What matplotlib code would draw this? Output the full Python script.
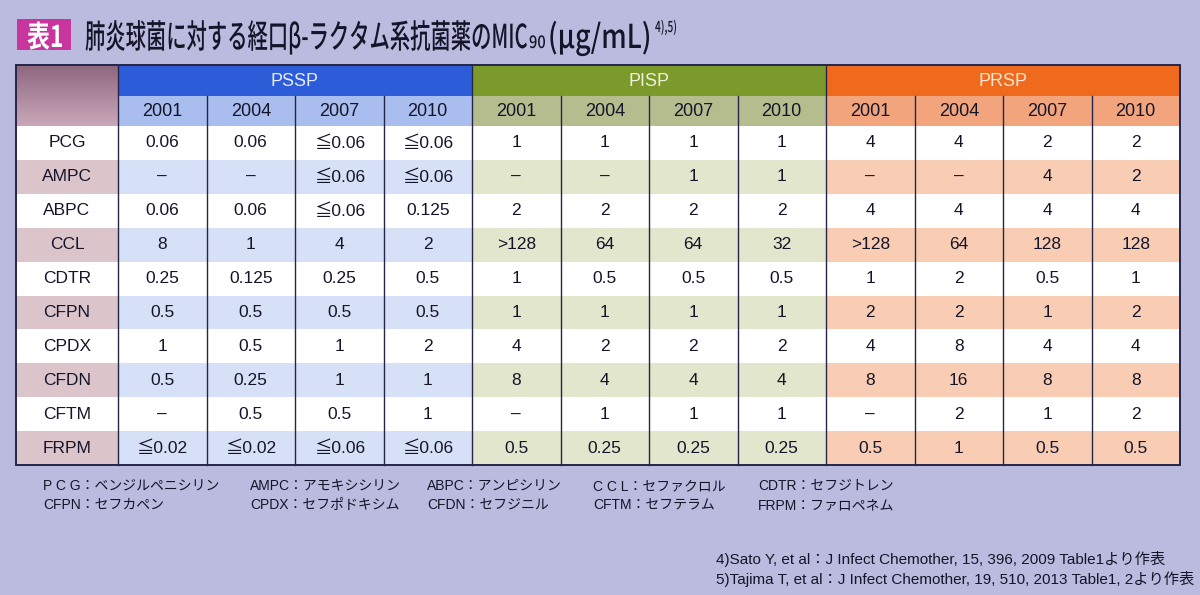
import numpy as np
import matplotlib.pyplot as plt
import matplotlib.transforms as mtransforms
from matplotlib.patches import Rectangle, PathPatch
from matplotlib.textpath import TextPath
from matplotlib.font_manager import FontProperties
from matplotlib.colors import LinearSegmentedColormap

# ---- data ----
groups = ['PSSP', 'PISP', 'PRSP']
years = ['2001', '2004', '2007', '2010']
drugs = ['PCG', 'AMPC', 'ABPC', 'CCL', 'CDTR', 'CFPN', 'CPDX', 'CFDN', 'CFTM', 'FRPM']

pssp = [['0.06', '0.06', '≦0.06', '≦0.06'],
        ['–', '–', '≦0.06', '≦0.06'],
        ['0.06', '0.06', '≦0.06', '0.125'],
        ['8', '1', '4', '2'],
        ['0.25', '0.125', '0.25', '0.5'],
        ['0.5', '0.5', '0.5', '0.5'],
        ['1', '0.5', '1', '2'],
        ['0.5', '0.25', '1', '1'],
        ['–', '0.5', '0.5', '1'],
        ['≦0.02', '≦0.02', '≦0.06', '≦0.06']]
pisp = [['1', '1', '1', '1'],
        ['–', '–', '1', '1'],
        ['2', '2', '2', '2'],
        ['>128', '64', '64', '32'],
        ['1', '0.5', '0.5', '0.5'],
        ['1', '1', '1', '1'],
        ['4', '2', '2', '2'],
        ['8', '4', '4', '4'],
        ['–', '1', '1', '1'],
        ['0.5', '0.25', '0.25', '0.25']]
prsp = [['4', '4', '2', '2'],
        ['–', '–', '4', '2'],
        ['4', '4', '4', '4'],
        ['>128', '64', '128', '128'],
        ['1', '2', '0.5', '1'],
        ['2', '2', '1', '2'],
        ['4', '8', '4', '4'],
        ['8', '16', '8', '8'],
        ['–', '2', '1', '2'],
        ['0.5', '1', '0.5', '0.5']]

legend_row1 = ['P C G：ベンジルペニシリン', 'AMPC：アモキシシリン', 'ABPC：アンピシリン',
               'C C L：セファクロル', 'CDTR：セフジトレン']
legend_row2 = ['CFPN：セフカペン', 'CPDX：セフポドキシム', 'CFDN：セフジニル',
               'CFTM：セフテラム', 'FRPM：ファロペネム']
footnotes = ['4)Sato Y, et al：J Infect Chemother, 15, 396, 2009 Table1より作表',
             '5)Tajima T, et al：J Infect Chemother, 19, 510, 2013 Table1, 2より作表']

title_badge = '表1'
title_main = '肺炎球菌に対する経口β-ラクタム系抗菌薬のMIC'
title_sub = '90'
title_unit = '(μg/mL)'
title_ref = '4),5)'

# ---- style ----
BG = '#bbbbdf'
LINE = '#25254a'
TXT = '#15152a'
head_col = {'PSSP': '#2c5cd8', 'PISP': '#7c9a2c', 'PRSP': '#f06a1e'}
head_txt = {'PSSP': '#e6ebff', 'PISP': '#eef2d8', 'PRSP': '#ffe6d4'}
year_col = {'PSSP': '#a9bdee', 'PISP': '#b5bd8e', 'PRSP': '#f2a57c'}
tint_col = {'PSSP': '#d6e0f6', 'PISP': '#e2e6cc', 'PRSP': '#f9cdb3'}
LABEL_TINT = '#dcc4cb'
FONT = ['Liberation Sans', 'Noto Sans CJK JP']
JP = 'Noto Sans CJK JP'

# layout (pixels)
X0, LABEL_W, COL_W = 16, 102, 88.5
Y0, H1, H2, ROW_H = 65, 31, 30, 33.9

fig = plt.figure(figsize=(12, 5.95), dpi=100)
fig.patch.set_facecolor(BG)
ax = fig.add_axes([0, 0, 1, 1])
ax.set_xlim(0, 1200)
ax.set_ylim(595, 0)
ax.axis('off')


def path_text(s, x, base, size, width=None, sx=1.0, color=TXT, weight='bold'):
    tp = TextPath((0, 0), s, size=size, prop=FontProperties(family=JP, weight=weight))
    ext = tp.get_extents()
    if width is not None:
        sx = width / ext.x1
    tr = mtransforms.Affine2D().scale(sx, -1).translate(x, base) + ax.transData
    ax.add_patch(PathPatch(tp, transform=tr, fc=color, ec='none', lw=0))
    return x + ext.x1 * sx, sx


# ---- title ----
ax.add_patch(Rectangle((17, 19), 54, 31, fc='#c8359d', ec='none'))
path_text(title_badge, 27, 47, 30, width=35, color='white')
path_text(title_main, 85, 48, 33, width=442, weight='medium')
path_text(title_sub, 529, 48, 17, width=16, weight='medium')
path_text(title_unit, 548, 48, 33, width=101, weight='medium')
path_text(title_ref, 655, 32, 15, width=21, weight='medium')

# ---- table ----
n_rows = len(drugs)
y_data = Y0 + H1 + H2
y_bot = y_data + n_rows * ROW_H
x_right = X0 + LABEL_W + COL_W * len(groups) * len(years)

# label column (header cell has a mauve gradient)
mauve = LinearSegmentedColormap.from_list('mauve', ['#8f6780', '#c9a8b8'])
ax.imshow(np.linspace(0, 1, 64).reshape(-1, 1), cmap=mauve, aspect='auto',
          extent=(X0, X0 + LABEL_W, Y0 + H1 + H2, Y0), zorder=1)
for i, d in enumerate(drugs):
    y = y_data + i * ROW_H
    ax.add_patch(Rectangle((X0, y), LABEL_W, ROW_H,
                           fc='white' if i % 2 == 0 else LABEL_TINT, ec='none'))
    ax.text(X0 + LABEL_W / 2, y + ROW_H / 2, d, ha='center', va='center',
            fontsize=12.5, color=TXT, family=FONT)

group_data = {'PSSP': pssp, 'PISP': pisp, 'PRSP': prsp}
for g_i, g in enumerate(groups):
    gx = X0 + LABEL_W + g_i * len(years) * COL_W
    gw = len(years) * COL_W
    ax.add_patch(Rectangle((gx, Y0), gw, H1, fc=head_col[g], ec='none'))
    ax.text(gx + gw / 2, Y0 + H1 / 2 + 1, g, ha='center', va='center',
            fontsize=13, color=head_txt[g], family=FONT)
    for c, yr in enumerate(years):
        cx = gx + c * COL_W
        ax.add_patch(Rectangle((cx, Y0 + H1), COL_W, H2, fc=year_col[g], ec='none'))
        ax.text(cx + COL_W / 2, Y0 + H1 + H2 / 2, yr, ha='center', va='center',
                fontsize=13, color=TXT, family=FONT)
        for i in range(n_rows):
            y = y_data + i * ROW_H
            ax.add_patch(Rectangle((cx, y), COL_W, ROW_H,
                                   fc='white' if i % 2 == 0 else tint_col[g], ec='none'))
            ax.text(cx + COL_W / 2, y + ROW_H / 2, group_data[g][i][c],
                    ha='center', va='center', fontsize=12.5, color=TXT, family=FONT)
        if c > 0:
            ax.plot([cx, cx], [Y0 + H1, y_bot], color=LINE, lw=1.0)
    ax.plot([gx, gx], [Y0, y_bot], color=LINE, lw=1.0)

ax.add_patch(Rectangle((X0, Y0), x_right - X0, y_bot - Y0, fc='none', ec=LINE, lw=1.4,
                       zorder=3))
ax.set_xlim(0, 1200)
ax.set_ylim(595, 0)

# ---- drug legend ----
leg_x = [43, 250, 427, 593, 758]
for x, a, b in zip(leg_x, legend_row1, legend_row2):
    ax.text(x, 486, a, ha='left', va='center', fontsize=10, color=TXT, family=FONT)
    ax.text(x, 505, b, ha='left', va='center', fontsize=10, color=TXT, family=FONT)

# ---- footnotes ----
for k, s in enumerate(footnotes):
    ax.text(716, 559 + k * 20, s, ha='left', va='center', fontsize=11,
            color=TXT, family=FONT)

plt.savefig('out.png', dpi=100, facecolor=BG)
